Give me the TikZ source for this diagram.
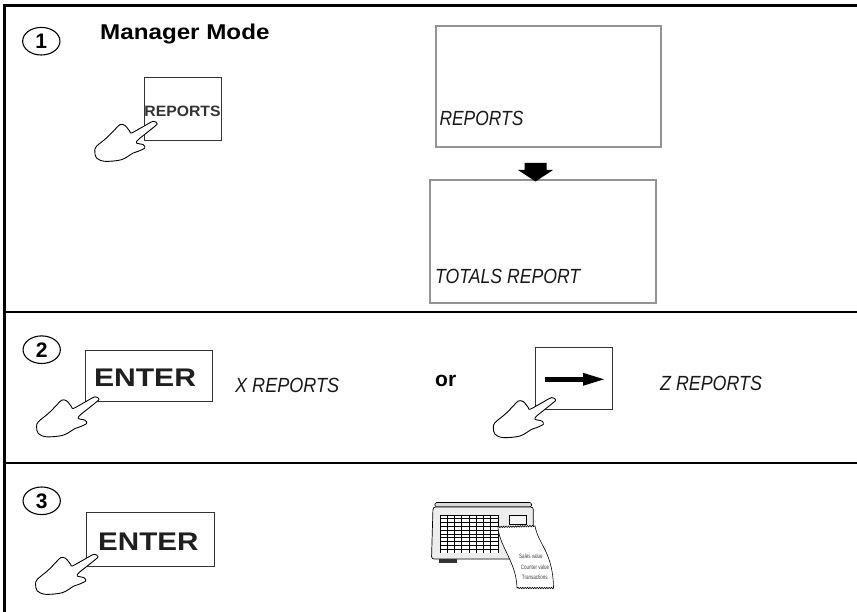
\documentclass[tikz,border=0pt]{standalone}
\usepackage{fontspec}
\setmainfont{Liberation Sans}
\usetikzlibrary{shapes.geometric,decorations.pathmorphing}
\begin{document}
\begin{tikzpicture}[x=1pt,y=-1pt,
  frame/.style={line width=2.3pt,black},
  keybox/.style={draw=black!80,line width=1.1pt,fill=white,inner sep=0pt},
  lcdbox/.style={draw=black!42,line width=2pt,inner sep=0pt},
  stepnum/.style={draw,ellipse,line width=1.1pt,minimum width=37.3pt,minimum height=27.6pt,inner sep=0pt,font=\bfseries\fontsize{21}{21}\selectfont},
  keytext/.style={anchor=base,inner sep=0pt,text=black!88,font=\bfseries\fontsize{25.5}{25.5}\selectfont},
  lcd/.style={anchor=base west,inner sep=0pt,text=black!90,font=\itshape\fontsize{20.5}{20.5}\selectfont},
  slip/.style={anchor=base west,inner sep=0pt,text=black!75,font=\fontsize{6.3}{6.3}\selectfont},
  snakeedge/.style={decoration={snake,amplitude=0.7pt,segment length=2.4pt}},
  pics/hand/.style={code={
    \draw[line width=0.9pt,fill=white,line join=round]
      plot[smooth cycle,tension=0.55] coordinates {
        (-3.3,-0.7) (0.7,1.7) (-1.7,4.3) (-10,11) (-18.3,17.7) (-20,21)
        (-13.3,22.7) (-11.7,26) (-18.3,29.3) (-23.3,31) (-35,37.7)
        (-51.7,39.3) (-60,36) (-61.7,29.3) (-60,24.3) (-50,16)
        (-41.7,7.7) (-36.7,2.7) (-31.7,3.3) (-26.7,9.3) (-25,11) (-14,5)};
  }}
]
\useasboundingbox (0,0) rectangle (857,612);

% section rules
\draw[frame] (4.5,612) -- (4.5,5.5) -- (857,5.5);
\draw[frame] (4.5,311.7) -- (857,311.7);
\draw[frame] (4.5,463) -- (857,463);

% ---------- step 1 ----------
\node[stepnum] (n1) at (41.3,41.2) {1};
\node[anchor=base west,inner sep=0pt,font=\bfseries\fontsize{21.4}{21.4}\selectfont] (mgr) at (100,39.3) {\scalebox{1.13}[1]{Manager Mode}};
\node[keybox,minimum width=77.3pt,minimum height=63.3pt] (kreports) at (182.9,109.2) {};
\node[anchor=base,inner sep=0pt,text=black!80,font=\bfseries\fontsize{15}{15}\selectfont] (treports) at (182.5,116.7) {\scalebox{1.05}[1]{REPORTS}};
\pic (h1) at (156.5,122) {hand};

\node[lcdbox,minimum width=225pt,minimum height=121.3pt] (disp1) at (548,86.2) {};
\node[lcd] (lcd1) at (439.3,125.5) {\scalebox{0.85}[1]{REPORTS}};
\node[lcdbox,minimum width=225.7pt,minimum height=122.3pt] (disp2) at (543.3,241.6) {};
\node[lcd] (lcd2) at (435,283.5) {\scalebox{0.86}[1]{TOTALS REPORT}};
% down arrow between the two displays
\fill (524.5,163) -- (546.5,163) -- (546.5,170) -- (553,170) -- (535.5,181.5) -- (518,170) -- (524.5,170) -- cycle;

% ---------- step 2 ----------
\node[stepnum] (n2) at (41.7,349.7) {2};
\node[keybox,minimum width=127.6pt,minimum height=51.6pt] (kenter2) at (149,376) {};
\node[keytext] (tenter2) at (145,386.7) {\scalebox{1.18}[1]{ENTER}};
\pic (h2) at (98.3,397.5) {hand};
\node[lcd] (lcdx) at (235,392.5) {\scalebox{0.88}[1]{X REPORTS}};
\node[anchor=base west,inner sep=0pt,font=\bfseries\fontsize{21}{21}\selectfont] (or) at (435,386.7) {or};
\node[keybox,minimum width=76.7pt,minimum height=62.3pt] (karrow) at (574.2,378.6) {};
\draw[line width=5.5pt] (545,379.3) -- (584,379.3);
\fill (583,372.8) -- (604,379.3) -- (583,385.8) -- cycle;
\pic (h4) at (555,398.3) {hand};
\node[lcd] (lcdz) at (660,391) {\scalebox{0.87}[1]{Z REPORTS}};

% ---------- step 3 ----------
\node[stepnum] (n3) at (41.7,500.8) {3};
\node[keybox,minimum width=127.4pt,minimum height=53.7pt] (kenter3) at (150.5,539.3) {};
\node[keytext] (tenter3) at (148.3,550) {\scalebox{1.16}[1]{ENTER}};
\pic (h3) at (97.3,555) {hand};

% scale with printed slip
\draw[fill=black!14,line width=0.6pt,rounded corners=1.5pt] (435,502.5) rectangle (531.5,507);
\draw[fill=black!7,line width=0.7pt,rounded corners=2.5pt] (433,507) -- (533.3,507) -- (533.3,559) -- (431.5,559) -- cycle;
\fill[white] (440,515) rectangle (498,553);
\foreach \i in {0,...,8} \draw[line width=0.9pt] (440+7.25*\i,515) -- (440+7.25*\i,553);
\foreach \j in {0,...,9} \draw[line width=0.9pt] (440,515+3.8*\j) -- (498,515+3.8*\j);
\draw[fill=black!4,line width=0.6pt] (509.5,515) rectangle (526,524);
\fill[black!80] (438.5,559) rectangle (457,562.5);
\draw[fill=white,line width=0.6pt,snakeedge]
  (498,527) decorate {-- (535,526)}
  .. controls (538.5,545) and (553,552) .. (553.5,588)
  decorate {-- (517,588)}
  .. controls (516.5,562) and (499,546) .. (498,527) -- cycle;
\node[slip] (s1) at (519,558.5) {\scalebox{0.72}[1]{Sales value}};
\node[slip] (s2) at (520.7,569) {\scalebox{0.72}[1]{Counter value}};
\node[slip] (s3) at (521.7,579) {\scalebox{0.72}[1]{Transactions}};
\end{tikzpicture}
\end{document}
